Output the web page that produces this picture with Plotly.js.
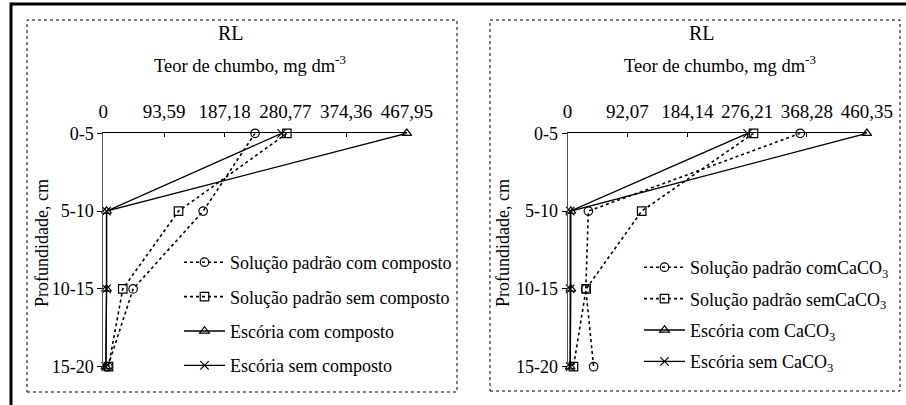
<!DOCTYPE html>
<html><head><meta charset="utf-8">
<script src="https://cdn.plot.ly/plotly-3.0.1.min.js"></script>
<style>body{margin:0;padding:0;background:#fff}#chart{width:906px;height:405px}</style>
</head><body><div id="chart"></div>
<script>
const depths = ["0-5", "5-10", "10-15", "15-20"];

const leftTicks = [0, 93.59, 187.18, 280.77, 374.36, 467.95];
const leftTickText = ["0", "93,59", "187,18", "280,77", "374,36", "467,95"];
const rightTicks = [0, 92.07, 184.14, 276.21, 368.28, 460.35];
const rightTickText = ["0", "92,07", "184,14", "276,21", "368,28", "460,35"];

const leftNames = ["Solução padrão com composto", "Solução padrão sem composto", "Escória com composto", "Escória sem composto"];
const leftSPcom = [234, 154, 46, 7];
const leftSPsem = [283, 116, 30, 8];
const leftEScom = [467.95, 5, 5, 4];
const leftESsem = [275, 5, 5, 4];

const rightNames = ["Solução padrão comCaCO<sub>3</sub>", "Solução padrão semCaCO<sub>3</sub>", "Escória com CaCO<sub>3</sub>", "Escória sem CaCO<sub>3</sub>"];
const rightSPcom = [358, 32, 28, 40];
const rightSPsem = [286, 114, 28.5, 9];
const rightEScom = [460.35, 5, 5, 4];
const rightESsem = [277, 4, 4, 4];

const W = 906, H = 405;
const px = x => x / W;
const py = y => (H - y) / H;
const FONT = "'Liberation Serif', 'Times New Roman', Times, serif";

const styles = [
  {symbol: "circle-open", dash: "dot"},
  {symbol: "square-open", dash: "dot"},
  {symbol: "triangle-up-open", dash: "solid"},
  {symbol: "x-thin-open", dash: "solid"}
];

function mk(vals, name, i, side) {
  const s = styles[i];
  return {
    type: "scatter", mode: "lines+markers",
    x: vals, y: depths, name: name,
    xaxis: side === 0 ? "x" : "x2",
    yaxis: side === 0 ? "y" : "y2",
    legend: side === 0 ? "legend" : "legend2",
    legendgroup: (side === 0 ? "L" : "R") + i,
    cliponaxis: false,
    line: {color: "#000", width: s.dash === "dot" ? 1.6 : 1.3, dash: s.dash},
    marker: {symbol: s.symbol, size: 8.5, color: "#000", line: {color: "#000", width: 1.2}}
  };
}

const data = [
  mk(leftSPcom, leftNames[0], 0, 0),
  mk(leftSPsem, leftNames[1], 1, 0),
  mk(leftEScom, leftNames[2], 2, 0),
  mk(leftESsem, leftNames[3], 3, 0),
  mk(rightSPcom, rightNames[0], 0, 1),
  mk(rightSPsem, rightNames[1], 1, 1),
  mk(rightEScom, rightNames[2], 2, 1),
  mk(rightESsem, rightNames[3], 3, 1)
];

const xCommon = {
  side: "top", showgrid: false, zeroline: false,
  showline: true, linecolor: "#000", linewidth: 1,
  ticks: "inside", ticklen: 4, tickcolor: "#000",
  tickfont: {family: FONT, size: 19, color: "#000"},
  tickmode: "array", ticklabelstandoff: 7
};
const yCommon = {
  type: "category", categoryorder: "array", categoryarray: depths,
  range: [3, 0], showgrid: false, zeroline: false,
  showline: true, linecolor: "#555", linewidth: 1,
  ticks: "outside", ticklen: 5, tickcolor: "#000",
  tickfont: {family: FONT, size: 18, color: "#000"}
};

const legCommon = {
  font: {family: FONT, size: 18, color: "#000"},
  bgcolor: "rgba(0,0,0,0)", borderwidth: 0,
  itemwidth: 41,
  xanchor: "left", yanchor: "top"
};

function ann(text, x, y, size, angle, xa) {
  return {text: text, x: px(x), y: py(y), xref: "paper", yref: "paper", showarrow: false,
    xanchor: xa || "center", yanchor: "middle", textangle: angle || 0,
    font: {family: FONT, size: size, color: "#000"}};
}

const layout = {
  width: W, height: H,
  margin: {l: 0, r: 0, t: 0, b: 0},
  paper_bgcolor: "#fff", plot_bgcolor: "rgba(0,0,0,0)",
  font: {family: FONT, color: "#000"},
  xaxis: Object.assign({}, xCommon, {domain: [px(103.3), px(406.8)], range: [0, 467.95], tickvals: leftTicks, ticktext: leftTickText, anchor: "y"}),
  yaxis: Object.assign({}, yCommon, {domain: [py(366.7), py(133.3)], anchor: "x"}),
  xaxis2: Object.assign({}, xCommon, {domain: [px(567.6), px(866.8)], range: [0, 460.35], tickvals: rightTicks, ticktext: rightTickText, anchor: "y2"}),
  yaxis2: Object.assign({}, yCommon, {domain: [py(366.7), py(133.3)], anchor: "x2"}),
  legend: Object.assign({}, legCommon, {x: px(179), y: py(244), tracegroupgap: 8}),
  legend2: Object.assign({}, legCommon, {x: px(639), y: py(249), tracegroupgap: 5}),
  annotations: [
    ann("RL", 231, 33, 20),
    ann("Teor de chumbo, mg dm<sup>-3</sup>", 152, 64, 18.5, 0, "left"),
    ann("Profundidade, cm", 42, 243, 18, -90),
    ann("RL", 702, 33, 20),
    ann("Teor de chumbo, mg dm<sup>-3</sup>", 622, 64, 18.5, 0, "left"),
    ann("Profundidade, cm", 503, 243, 18, -90)
  ],
  shapes: [
    {type: "rect", xref: "paper", yref: "paper", x0: px(27), x1: px(457), y0: py(392), y1: py(20), line: {color: "#000", width: 1, dash: "dot"}},
    {type: "rect", xref: "paper", yref: "paper", x0: px(490), x1: px(900), y0: py(391), y1: py(20), line: {color: "#000", width: 1, dash: "dot"}},
    {type: "line", xref: "paper", yref: "paper", x0: px(11), x1: px(906), y0: py(4), y1: py(4), line: {color: "#000", width: 3}},
    {type: "line", xref: "paper", yref: "paper", x0: px(11), x1: px(11), y0: py(2.5), y1: py(405), line: {color: "#000", width: 3}}
  ]
};

Plotly.newPlot("chart", data, layout, {staticPlot: true});
</script></body></html>
